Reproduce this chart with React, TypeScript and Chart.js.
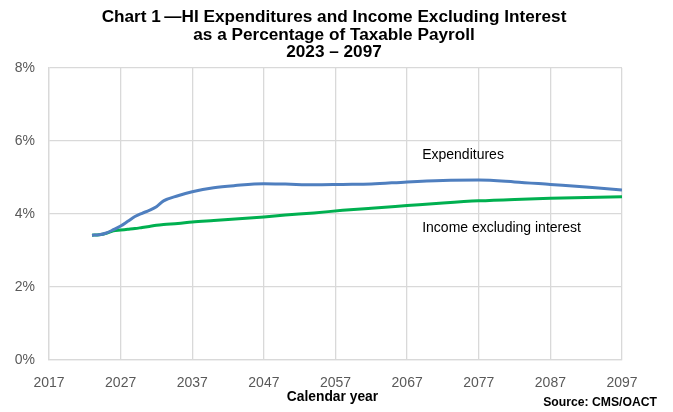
import React, { useEffect, useRef } from "react";
import { Chart, registerables } from "chart.js";

Chart.register(...registerables);

const years = [2023, 2024, 2025, 2026, 2027, 2028, 2029, 2030, 2031, 2032, 2033, 2035, 2037, 2040, 2043, 2047, 2050, 2054, 2058, 2062, 2067, 2072, 2077, 2082, 2087, 2092, 2097];
const expenditures = [3.42, 3.43, 3.48, 3.57, 3.67, 3.80, 3.93, 4.02, 4.10, 4.20, 4.36, 4.50, 4.61, 4.72, 4.78, 4.83, 4.82, 4.80, 4.81, 4.82, 4.88, 4.92, 4.93, 4.88, 4.81, 4.74, 4.66];
const incomeExclInterest = [3.42, 3.43, 3.47, 3.54, 3.56, 3.58, 3.60, 3.63, 3.66, 3.69, 3.71, 3.74, 3.78, 3.82, 3.86, 3.92, 3.97, 4.03, 4.10, 4.16, 4.23, 4.30, 4.36, 4.40, 4.43, 4.45, 4.47];
const xTicks = [2017, 2027, 2037, 2047, 2057, 2067, 2077, 2087, 2097];
const yTicks = [0, 2, 4, 6, 8];
const titleLines = ["Chart 1\u2009\u2014HI Expenditures and Income Excluding Interest", "as a Percentage of Taxable Payroll", "2023 \u2013 2097"];
const seriesLabels = [
  { text: "Expenditures", x: 2069.1, y: 5.62 },
  { text: "Income excluding interest", x: 2069.1, y: 3.6 },
];
const xAxisTitle = "Calendar year";
const sourceText = "Source: CMS/OACT";

const FONT = "'Liberation Sans', Arial, Helvetica, sans-serif";

const textPlugin = {
  id: "textPlugin",
  afterDraw(chart: any) {
    const ctx = chart.ctx;
    const xs = chart.scales.x;
    const ys = chart.scales.y;
    ctx.save();
    ctx.fillStyle = "#000";
    ctx.textAlign = "center";
    ctx.textBaseline = "alphabetic";
    ctx.font = "bold 17.2px " + FONT;
    titleLines.forEach((t, i) => ctx.fillText(t, 334, 22 + i * 17.5));
    ctx.textBaseline = "middle";
    ctx.font = "14px " + FONT;
    ctx.textAlign = "left";
    seriesLabels.forEach((l) => ctx.fillText(l.text, xs.getPixelForValue(l.x), ys.getPixelForValue(l.y)));
    ctx.textAlign = "center";
    ctx.font = "bold 13.8px " + FONT;
    ctx.fillText(xAxisTitle, 332.5, 397.5);
    ctx.textAlign = "right";
    ctx.font = "bold 12.2px " + FONT;
    ctx.fillText(sourceText, 657, 403);
    ctx.restore();
  },
};

export default function App() {
  const ref = useRef<HTMLCanvasElement>(null);
  useEffect(() => {
    document.body.style.margin = "0";
    const chart = new Chart(ref.current!, {
      type: "line",
      data: {
        datasets: [
          {
            label: "Expenditures",
            data: years.map((y, i) => ({ x: y, y: expenditures[i] })),
            borderColor: "#4f7fbf",
            borderWidth: 3,
            pointRadius: 0,
            cubicInterpolationMode: "monotone",
          },
          {
            label: "Income excluding interest",
            data: years.map((y, i) => ({ x: y, y: incomeExclInterest[i] })),
            borderColor: "#00b050",
            borderWidth: 3,
            pointRadius: 0,
            cubicInterpolationMode: "monotone",
          },
        ],
      },
      options: {
        animation: false,
        responsive: false,
        layout: { padding: { top: 68, right: 51, left: 0, bottom: 0 } },
        plugins: { legend: { display: false }, tooltip: { enabled: false } },
        scales: {
          x: {
            type: "linear",
            min: 2017,
            max: 2097,
            afterBuildTicks: (s: any) => { s.ticks = xTicks.map((v) => ({ value: v })); },
            afterFit: (s: any) => { s.height = 52; },
            ticks: { color: "#595959", font: { size: 14, family: FONT }, padding: 15, maxRotation: 0, callback: (v: any) => String(v) },
            grid: { color: "#d9d9d9", lineWidth: 1.3, drawTicks: false },
            border: { color: "#d9d9d9", width: 1.3 },
          },
          y: {
            min: 0,
            max: 8,
            afterBuildTicks: (s: any) => { s.ticks = yTicks.map((v) => ({ value: v })); },
            afterFit: (s: any) => { s.width = 49; },
            ticks: { color: "#595959", font: { size: 14, family: FONT }, padding: 14, callback: (v: any) => v + "%" },
            grid: { color: "#d9d9d9", lineWidth: 1.3, drawTicks: false },
            border: { color: "#d9d9d9", width: 1.3 },
          },
        },
      },
      plugins: [textPlugin],
    } as any);
    return () => chart.destroy();
  }, []);
  return (
    <div style={{ width: 673, height: 412, background: "#fff" }}>
      <canvas ref={ref} width={673} height={412} style={{ display: "block" }} />
    </div>
  );
}
